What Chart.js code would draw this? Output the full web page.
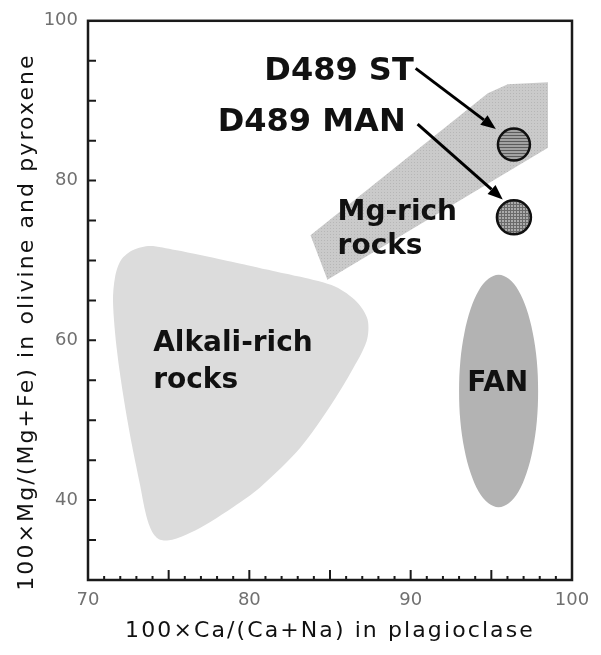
<!DOCTYPE html>
<html>
<head>
<meta charset="utf-8">
<script src="https://cdn.jsdelivr.net/npm/chart.js"></script>
<style>
  html, body { margin: 0; padding: 0; background: #fff; }
</style>
</head>
<body>
<canvas id="chart" width="601" height="655"></canvas>
<script>
// Pyroxene/olivine Mg# vs plagioclase An diagram

// axis tick labels
const xTicks = [70, 80, 90, 100];
const yTicks = [40, 60, 80, 100];

// Alkali-rich rocks field outline
const alkaliX = [76.96, 80.06, 83.17, 85.34, 86.65, 87.33, 87.27, 86.27, 85.03, 83.17, 80.68, 79.01, 77.58, 76.34, 75.22, 74.47, 73.98, 73.60, 73.23, 72.73, 72.24, 71.80, 71.55, 71.68, 72.05, 72.80, 73.85, 75.40];
const alkaliY = [70.68, 69.32, 67.95, 66.71, 64.84, 62.61, 59.88, 55.90, 51.80, 46.58, 41.61, 39.13, 37.27, 35.90, 35.03, 35.03, 36.02, 38.14, 41.86, 46.83, 52.42, 58.63, 64.84, 67.95, 70.06, 71.30, 71.80, 71.30];

// Mg-rich rocks field outline
const mgX = [83.79, 94.78, 96.02, 98.51, 98.51, 84.84];
const mgY = [73.17, 90.93, 92.05, 92.30, 84.10, 67.58];

// FAN field outline
const fanX = [95.45, 96.08, 96.68, 97.18, 97.57, 97.82, 97.90, 97.82, 97.57, 97.18, 96.68, 96.08, 95.45, 94.82, 94.22, 93.72, 93.33, 93.08, 93.00, 93.08, 93.33, 93.72, 94.22, 94.82];
const fanY = [68.20, 67.70, 66.25, 63.94, 60.93, 57.42, 53.65, 49.88, 46.38, 43.36, 41.05, 39.60, 39.10, 39.60, 41.05, 43.36, 46.38, 49.88, 53.65, 57.42, 60.93, 63.94, 66.25, 67.70];

// D489 samples
const sampleNames = ['D489 ST', 'D489 MAN'];
const sampleX = [96.4, 96.4];
const sampleY = [84.5, 75.4];

// arrows from the labels to the samples
const arrowFromX = [90.31, 90.43];
const arrowFromY = [94.04, 87.08];
const arrowToX = [95.28, 95.71];
const arrowToY = [86.46, 77.64];

const toPoints = (xs, ys) => xs.map((v, i) => ({x: v, y: ys[i]}));
// repeat the first points so the smoothed outline closes without a kink
const closeLoop = pts => pts.concat(pts.slice(0, 3));

function makePattern(w, h, draw) {
    const c = document.createElement('canvas');
    c.width = w;
    c.height = h;
    const g = c.getContext('2d');
    draw(g);
    return g.createPattern(c, 'repeat');
}

const mgFill = makePattern(3, 3, g => {
    g.fillStyle = '#cacaca'; g.fillRect(0, 0, 3, 3);
    g.fillStyle = '#b6b6b6'; g.fillRect(0, 0, 1, 1);
});
const stFill = makePattern(4, 3, g => {
    g.fillStyle = '#a2a2a2'; g.fillRect(0, 0, 4, 3);
    g.fillStyle = '#5c5c5c'; g.fillRect(0, 0, 4, 1);
});
const manFill = makePattern(3, 3, g => {
    g.fillStyle = '#ababab'; g.fillRect(0, 0, 3, 3);
    g.fillStyle = '#6a6a6a'; g.fillRect(0, 0, 3, 1); g.fillRect(0, 0, 1, 3);
});

const FONT = 'DejaVu Sans';

// text labels inside the plot (data coordinates)
const notes = [
    {text: 'D489 ST', x: 90.19, y: 92.55, align: 'right', size: 32},
    {text: 'D489 MAN', x: 89.69, y: 86.21, align: 'right', size: 32},
    {text: 'Mg-rich', x: 85.47, y: 75.03, align: 'left', size: 28},
    {text: 'rocks', x: 85.47, y: 70.81, align: 'left', size: 28},
    {text: 'Alkali-rich', x: 74.04, y: 58.63, align: 'left', size: 28},
    {text: 'rocks', x: 74.04, y: 54.04, align: 'left', size: 28},
    {text: 'FAN', x: 95.40, y: 53.66, align: 'center', size: 28}
];

const decor = {
    id: 'decor',
    afterDatasetsDraw(chart) {
        const {ctx, chartArea: a, scales: {x, y}} = chart;
        ctx.save();

        // frame
        ctx.strokeStyle = '#1a1a1a';
        ctx.lineWidth = 2.5;
        ctx.strokeRect(a.left, a.top, a.right - a.left, a.bottom - a.top);

        // inward tick marks
        ctx.lineWidth = 2;
        ctx.beginPath();
        for (let v = 71; v < 100; v++) {
            const px = x.getPixelForValue(v);
            const len = v % 5 === 0 ? 10 : 4;
            ctx.moveTo(px, a.bottom);
            ctx.lineTo(px, a.bottom - len);
        }
        for (let v = 35; v < 100; v += 5) {
            const py = y.getPixelForValue(v);
            ctx.moveTo(a.left, py);
            ctx.lineTo(a.left + 8, py);
        }
        ctx.stroke();

        // arrows
        ctx.strokeStyle = '#000';
        ctx.fillStyle = '#000';
        ctx.lineWidth = 3;
        arrowFromX.forEach((fx, i) => {
            const x0 = x.getPixelForValue(fx), y0 = y.getPixelForValue(arrowFromY[i]);
            const x1 = x.getPixelForValue(arrowToX[i]), y1 = y.getPixelForValue(arrowToY[i]);
            const ang = Math.atan2(y1 - y0, x1 - x0);
            const head = 15, half = 6;
            const bx = x1 - head * Math.cos(ang), by = y1 - head * Math.sin(ang);
            ctx.beginPath();
            ctx.moveTo(x0, y0);
            ctx.lineTo(bx, by);
            ctx.stroke();
            ctx.beginPath();
            ctx.moveTo(x1, y1);
            ctx.lineTo(bx + half * Math.sin(ang), by - half * Math.cos(ang));
            ctx.lineTo(bx - half * Math.sin(ang), by + half * Math.cos(ang));
            ctx.closePath();
            ctx.fill();
        });

        // labels
        ctx.fillStyle = '#111';
        ctx.textBaseline = 'alphabetic';
        notes.forEach(n => {
            ctx.font = `bold ${n.size}px "${FONT}"`;
            ctx.textAlign = n.align;
            ctx.fillText(n.text, x.getPixelForValue(n.x), y.getPixelForValue(n.y));
        });

        // axis titles
        ctx.font = `22px "${FONT}"`;
        ctx.letterSpacing = '2.1px';
        ctx.textAlign = 'center';
        ctx.fillText('100×Ca/(Ca+Na) in plagioclase', (a.left + a.right) / 2, 637);
        ctx.translate(33, 322);
        ctx.rotate(-Math.PI / 2);
        ctx.fillText('100×Mg/(Mg+Fe) in olivine and pyroxene', 0, 0);

        ctx.restore();
    }
};

new Chart(document.getElementById('chart'), {
    type: 'scatter',
    data: {
        datasets: [{
            label: 'D489',
            data: toPoints(sampleX, sampleY),
            pointRadius: [16, 17],
            pointHoverRadius: [16, 17],
            pointBackgroundColor: [stFill, manFill],
            pointBorderColor: '#111',
            pointBorderWidth: 2.5
        }, {
            label: 'FAN',
            data: closeLoop(toPoints(fanX, fanY)),
            showLine: true,
            fill: 'shape',
            tension: 0.35,
            backgroundColor: '#b3b3b3',
            borderWidth: 0,
            pointRadius: 0
        }, {
            label: 'Mg-rich rocks',
            data: toPoints(mgX, mgY),
            showLine: true,
            fill: 'shape',
            tension: 0,
            backgroundColor: mgFill,
            borderWidth: 0,
            pointRadius: 0
        }, {
            label: 'Alkali-rich rocks',
            data: closeLoop(toPoints(alkaliX, alkaliY)),
            showLine: true,
            fill: 'shape',
            tension: 0.3,
            backgroundColor: '#dcdcdc',
            borderWidth: 0,
            pointRadius: 0
        }]
    },
    options: {
        responsive: false,
        animation: false,
        layout: {padding: {top: 17, right: 29, left: 0, bottom: 0}},
        plugins: {
            legend: {display: false},
            tooltip: {enabled: false}
        },
        scales: {
            x: {
                type: 'linear',
                min: 70,
                max: 100,
                afterBuildTicks: s => { s.ticks = xTicks.map(v => ({value: v})); },
                afterFit: s => { s.height = 75; },
                grid: {display: false, drawTicks: false},
                border: {display: false},
                ticks: {
                    color: '#707070',
                    font: {family: FONT, size: 18},
                    padding: 10,
                    maxRotation: 0
                }
            },
            y: {
                type: 'linear',
                min: 30,
                max: 100,
                afterBuildTicks: s => { s.ticks = yTicks.map(v => ({value: v})); },
                afterFit: s => { s.width = 88; },
                grid: {display: false, drawTicks: false},
                border: {display: false},
                ticks: {
                    color: '#707070',
                    font: {family: FONT, size: 18},
                    padding: 10
                }
            }
        }
    },
    plugins: [decor]
});
</script>
</body>
</html>
